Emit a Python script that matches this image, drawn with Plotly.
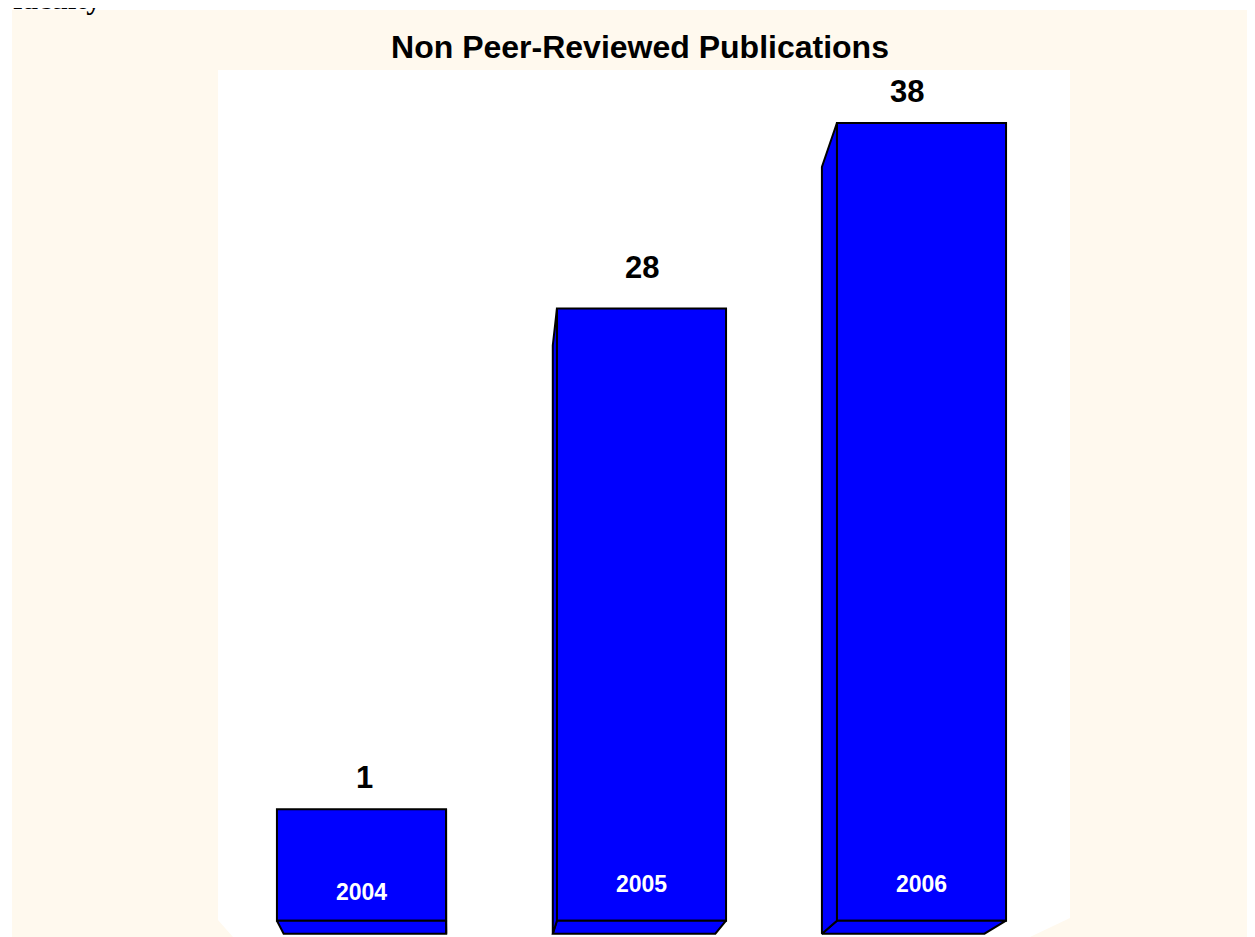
import plotly.graph_objects as go

# ---- data ----
years = ["2004", "2005", "2006"]
counts = [1, 28, 38]
title_text = "Non Peer-Reviewed Publications"
header_text = "faculty"

# ---- style constants ----
BAR_COLOR = "#0000FF"
EDGE_COLOR = "#000000"
CREAM = "#FFF9EE"
SANS = "Liberation Sans, Arial, sans-serif"
SERIF = "Liberation Serif, Times New Roman, serif"
BAR_W = 0.604            # bar width in category units
Y_BASE = -5              # axis floor the bars stand on
VX, VY, DEPTH = 0.316, -23.13, 0.0388   # perspective vanishing point & depth
X_RANGE = [-0.5125, 2.5304]
Y_RANGE = [-5.88, 40.857]
VALUE_LABEL_DX = [3, 1, -14]     # px nudges of the value labels
VALUE_LABEL_DY = [0, 10, 0]
YEAR_LABEL_DY = [-8, 0, 0]

W, H = 1247, 929
ML, MR, MT, MB = 210, 185, 62, 0
PW, PH = W - ML - MR, H - MT - MB

x_pos = list(range(len(years)))

fig = go.Figure()

# front faces of the bars
fig.add_trace(go.Bar(
    x=x_pos, y=[v - Y_BASE for v in counts], base=Y_BASE, width=BAR_W,
    marker=dict(color=BAR_COLOR, line=dict(color=EDGE_COLOR, width=2)),
    hoverinfo="skip", showlegend=False,
))

# 3-D side faces (projected from the bar geometry)
for xc, v in zip(x_pos, counts):
    x0, x1 = xc - BAR_W / 2, xc + BAR_W / 2
    f = {"BL": (x0, Y_BASE), "BR": (x1, Y_BASE), "TL": (x0, v), "TR": (x1, v)}
    b = {k: (px + DEPTH * (VX - px), py + DEPTH * (VY - py)) for k, (px, py) in f.items()}
    polys = [[f["BL"], f["BR"], b["BR"], b["BL"]]]
    if x0 > VX:
        polys.append([f["TL"], f["BL"], b["BL"], b["TL"]])
    if x1 < VX:
        polys.append([f["TR"], f["BR"], b["BR"], b["TR"]])
    for poly in polys:
        poly = poly + [poly[0]]
        fig.add_trace(go.Scatter(
            x=[p[0] for p in poly], y=[p[1] for p in poly],
            mode="lines", fill="toself", fillcolor=BAR_COLOR,
            line=dict(color=EDGE_COLOR, width=2),
            hoverinfo="skip", showlegend=False,
        ))

annotations = []
for i, (xc, v, yr) in enumerate(zip(x_pos, counts, years)):
    annotations.append(dict(
        x=xc, y=v, xref="x", yref="y", text=str(v), showarrow=False,
        yanchor="bottom", yshift=12 + VALUE_LABEL_DY[i], xshift=VALUE_LABEL_DX[i],
        font=dict(family=SANS, size=31, color="#000000", weight="bold"),
    ))
    annotations.append(dict(
        x=xc, y=Y_BASE, xref="x", yref="y", text=yr, showarrow=False,
        yanchor="middle", yshift=37 + YEAR_LABEL_DY[i],
        font=dict(family=SANS, size=23, color="#FFFFFF", weight="bold"),
    ))

annotations.append(dict(
    x=(3 - ML) / PW, y=1 + (MT + 10) / PH, xref="paper", yref="paper",
    xanchor="left", yanchor="middle", text=header_text, showarrow=False,
    font=dict(family=SERIF, size=30, color="#000000", weight="bold"),
))

fig.update_layout(
    width=W, height=H,
    margin=dict(l=ML, r=MR, t=MT, b=MB),
    paper_bgcolor="#FFFFFF", plot_bgcolor="rgba(0,0,0,0)",
    title=dict(text=title_text, x=(632 - ML) / PW, xref="paper", xanchor="center",
               y=1 - 39 / H, yref="container", yanchor="middle",
               font=dict(family=SANS, size=32, color="#000000", weight="bold")),
    xaxis=dict(range=X_RANGE, visible=False, fixedrange=True),
    yaxis=dict(range=Y_RANGE, visible=False, fixedrange=True),
    annotations=annotations,
    shapes=[
        dict(type="rect", xref="paper", yref="paper",
             x0=(4 - ML) / PW, x1=(W + 10 - ML) / PW, y0=-0.05, y1=(H - 2) / PH,
             fillcolor=CREAM, line=dict(width=0), layer="below"),
        dict(type="path", xref="paper", yref="paper",
             path="M 0 1 L 1 1 L 1 0.0219 L 0.953 0 L 0.0176 0 L 0 0.0196 Z",
             fillcolor="#FFFFFF", line=dict(width=0), layer="below"),
    ],
    showlegend=False,
)

fig.write_html("out.html")
